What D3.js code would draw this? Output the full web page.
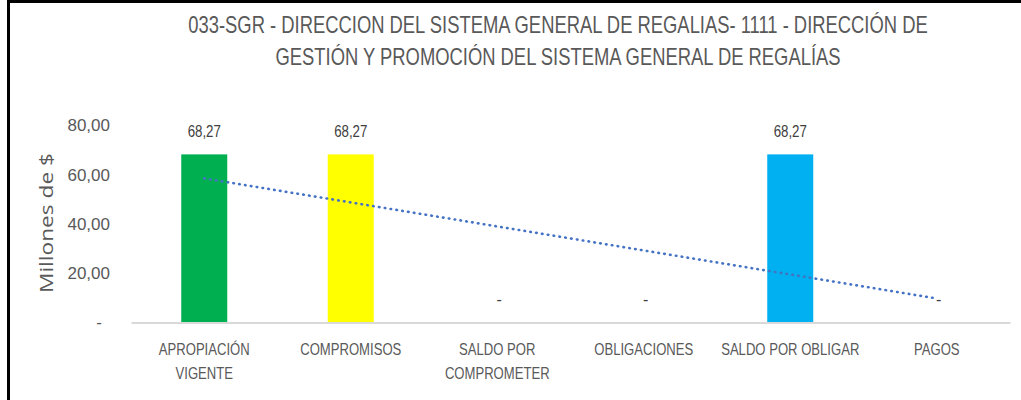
<!DOCTYPE html>
<html>
<head>
<meta charset="utf-8">
<script src="https://cdn.jsdelivr.net/npm/d3@7"></script>
<style>
  body { margin: 0; background: #fff; }
  svg { display: block; }
</style>
</head>
<body>
<svg id="chart" width="1021" height="400"></svg>
<script>
// datos del gráfico
const categories = ["APROPIACIÓN\nVIGENTE", "COMPROMISOS", "SALDO POR\nCOMPROMETER", "OBLIGACIONES", "SALDO POR OBLIGAR", "PAGOS"];
const values = [68.27, 68.27, 0, 0, 68.27, 0];
const barColors = ["#00B050", "#FFFF00", "#00B0F0", "#00B0F0", "#00B0F0", "#00B0F0"];
const yTicks = [0, 20, 40, 60, 80];
const titleLines = [
    "033-SGR - DIRECCION DEL SISTEMA GENERAL DE REGALIAS- 1111 - DIRECCIÓN DE",
    "GESTIÓN Y PROMOCIÓN DEL SISTEMA GENERAL DE REGALÍAS"
];
const yTitle = "Millones de $";

const FONT = "'Liberation Sans', Arial, sans-serif";
const gray = "#595959";

const svg = d3.select("#chart");

// comprime el texto horizontalmente (fuente tipo Arial Narrow)
function squeeze(sel, k) {
    sel.each(function () {
        const w = this.getComputedTextLength();
        this.setAttribute("textLength", w * k);
        this.setAttribute("lengthAdjust", "spacingAndGlyphs");
    });
}

// formato con coma decimal
const es = d3.formatLocale({ decimal: ",", thousands: ".", grouping: [3], currency: ["$", ""] });
const fmt = es.format(",.2f");

// borde negro
svg.append("rect")
    .attr("x", 8.5).attr("y", 1.5)
    .attr("width", 1100).attr("height", 500)
    .attr("fill", "none")
    .attr("stroke", "#000")
    .attr("stroke-width", 3);

// escalas
const x = d3.scaleBand()
    .domain(categories)
    .range([131, 1010])
    .paddingInner(0.686)
    .paddingOuter(0.343);

const y = d3.scaleLinear()
    .domain([0, 80])
    .range([322.5, 125.5]);

// título (escalado horizontal para imitar la fuente estrecha)
svg.append("g")
    .selectAll("g")
    .data(titleLines)
    .join("g")
    .attr("transform", (d, i) => `translate(558,${33 + i * 31.5}) scale(0.8,1)`)
    .append("text")
    .attr("text-anchor", "middle")
    .attr("font-family", FONT)
    .attr("font-size", 23)
    .attr("fill", gray)
    .text(d => d);

// eje y
const yAxis = svg.append("g")
    .attr("transform", "translate(110,0)")
    .call(d3.axisLeft(y).tickValues(yTicks).tickSize(0).tickPadding(0)
        .tickFormat(d => d === 0 ? "-" : fmt(d)));
yAxis.select(".domain").remove();
yAxis.selectAll("text")
    .attr("font-family", FONT)
    .attr("font-size", 17)
    .attr("fill", gray)
    .attr("dx", d => d === 0 ? -8 : 0);

// título eje y
svg.append("text")
    .attr("transform", "translate(53,223) rotate(-90)")
    .attr("text-anchor", "middle")
    .attr("font-family", "'Open Sans', sans-serif")
    .attr("font-size", 19)
    .attr("fill", gray)
    .attr("textLength", 140)
    .attr("lengthAdjust", "spacingAndGlyphs")
    .text(yTitle);

// barras
svg.append("g")
    .selectAll("rect")
    .data(values)
    .join("rect")
    .attr("x", (d, i) => x(categories[i]))
    .attr("y", d => y(d))
    .attr("width", x.bandwidth())
    .attr("height", d => y(0) - y(d))
    .attr("fill", (d, i) => barColors[i]);

// eje x
const xAxis = svg.append("g")
    .attr("transform", `translate(0,${y(0)})`)
    .call(d3.axisBottom(x).tickSize(0).tickSizeOuter(0));
xAxis.select(".domain")
    .attr("stroke", "#d9d9d9")
    .attr("stroke-width", 2);
xAxis.selectAll(".tick text").each(function (d) {
    const t = d3.select(this).text(null)
        .attr("y", 0)
        .attr("dy", null)
        .attr("font-family", FONT)
        .attr("font-size", 17)
        .attr("fill", gray);
    d.split("\n").forEach((line, i) => {
        t.append("tspan")
            .attr("x", 0)
            .attr("y", 32.5 + i * 24)
            .text(line);
    });
});
squeeze(xAxis.selectAll(".tick tspan"), 0.77);

// línea de tendencia lineal (mínimos cuadrados)
const n = values.length;
const mx = d3.mean(values, (d, i) => i);
const my = d3.mean(values);
const slope = d3.sum(values, (d, i) => (i - mx) * (d - my)) / d3.sum(values, (d, i) => (i - mx) ** 2);
const intercept = my - slope * mx;
const trend = [0, n - 1].map(i => ({ i, v: intercept + slope * i }));

svg.append("path")
    .datum(trend)
    .attr("fill", "none")
    .attr("stroke", "#4472C4")
    .attr("stroke-width", 2.6)
    .attr("stroke-linecap", "round")
    .attr("stroke-dasharray", "0.6,5.3")
    .attr("d", d3.line()
        .x(d => x(categories[d.i]) + x.bandwidth() / 2)
        .y(d => y(d.v)));

// etiquetas de datos
const labels = svg.append("g")
    .selectAll("text")
    .data(values)
    .join("text")
    .attr("x", (d, i) => x(categories[i]) + x.bandwidth() / 2 + (d === 0 ? 2 : 0))
    .attr("y", d => y(d) - 17.5)
    .attr("text-anchor", "middle")
    .attr("font-family", FONT)
    .attr("font-size", 16)
    .attr("fill", "#404040")
    .text(d => d === 0 ? "-" : fmt(d));
squeeze(labels.filter(d => d !== 0), 0.83);
</script>
</body>
</html>
